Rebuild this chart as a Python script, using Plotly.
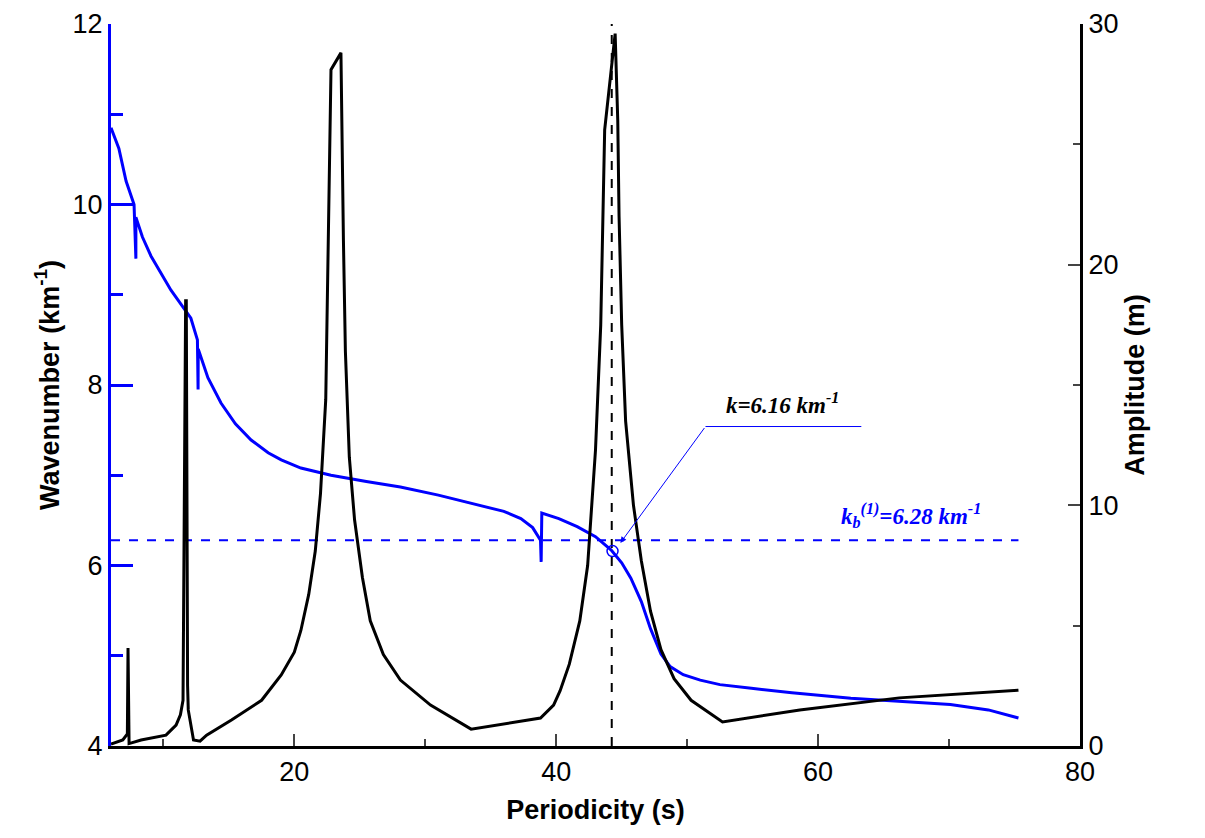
import plotly.graph_objects as go

wx = [6.0, 6.6, 7.15, 7.5, 7.76, 7.9, 7.9, 8.4, 9.05, 10.58, 12.1, 12.6, 12.65, 12.66, 13.4, 14.4, 15.5, 16.7, 18.0, 19.0, 20.5, 22.8, 25.5, 28.1, 31.0, 34.2, 36.0, 37.3, 38.2, 38.8, 38.85, 38.9, 40.2, 41.6, 43.0, 44.2, 45.0, 45.7, 46.5, 47.2, 48.0, 48.7, 49.7, 51.0, 52.5, 54.9, 58.0, 62.5, 66.0, 70.1, 73.0, 75.3]
wy = [10.85, 10.62, 10.26, 10.12, 10.0, 9.4, 9.86, 9.64, 9.43, 9.05, 8.74, 8.5, 7.95, 8.4, 8.08, 7.8, 7.57, 7.39, 7.25, 7.17, 7.08, 7.0, 6.93, 6.87, 6.78, 6.67, 6.6, 6.52, 6.42, 6.28, 6.04, 6.58, 6.52, 6.43, 6.32, 6.17, 6.03, 5.86, 5.6, 5.3, 5.02, 4.88, 4.79, 4.73, 4.68, 4.64, 4.59, 4.53, 4.5, 4.46, 4.4, 4.31]

ax_ = [6.0, 6.9, 7.25, 7.3, 7.38, 8.3, 10.2, 10.7, 10.97, 11.3, 11.5, 11.7, 11.75, 11.85, 11.9, 12.3, 12.8, 13.3, 15.2, 17.5, 19.0, 20.0, 20.5, 21.1, 21.6, 22.0, 22.4, 22.8, 23.56, 23.75, 23.9, 24.2, 24.6, 25.2, 25.8, 26.8, 28.1, 30.4, 33.5, 38.8, 39.8, 40.3, 41.0, 41.8, 42.4, 43.0, 43.4, 43.7, 44.5, 44.7, 44.8, 45.0, 45.3, 45.9, 46.5, 47.2, 48.0, 49.0, 50.3, 52.7, 58.6, 66.2, 75.3]
ay_ = [0.08, 0.25, 0.5, 4.07, 0.1, 0.25, 0.45, 0.7, 0.87, 1.3, 1.9, 18.5, 18.5, 2.5, 1.5, 0.25, 0.2, 0.45, 1.08, 1.9, 2.95, 3.9, 4.8, 6.3, 8.1, 10.5, 14.4, 28.1, 28.8, 21.0, 16.4, 12.0, 9.4, 7.0, 5.2, 3.8, 2.74, 1.7, 0.7, 1.16, 1.7, 2.3, 3.4, 5.2, 7.5, 12.3, 17.5, 25.6, 29.6, 26.0, 22.0, 17.5, 13.5, 10.0, 7.7, 5.6, 4.0, 2.8, 1.9, 1.0, 1.5, 2.0, 2.32]

kb = 6.28
kpt = [44.3, 6.16]
tf = "Liberation Serif"

fig = go.Figure()
fig.add_trace(go.Scatter(x=ax_, y=ay_, yaxis="y2", mode="lines", line=dict(color="black", width=3)))
fig.add_trace(go.Scatter(x=wx, y=wy, mode="lines", line=dict(color="blue", width=3)))
fig.add_trace(go.Scatter(x=[6, 75.3], y=[kb, kb], mode="lines", line=dict(color="blue", width=2, dash="dash")))
fig.add_trace(go.Scatter(x=[44.24, 44.24], y=[4, 12], mode="lines", line=dict(color="black", width=2, dash="dash")))
fig.add_trace(go.Scatter(x=[kpt[0]], y=[kpt[1]], mode="markers", marker=dict(symbol="circle-open", size=11, color="blue", line=dict(width=1.5))))
fig.add_trace(go.Scatter(x=[51.4, 63.3], y=[7.54, 7.54], mode="lines", line=dict(color="blue", width=1)))
fig.add_annotation(x=44.9, y=6.25, ax=51.4, ay=7.54, axref="x", ayref="y", showarrow=True,
                   arrowhead=2, arrowsize=1.2, arrowwidth=1, arrowcolor="blue", text="")
fig.add_annotation(x=57.3, y=7.8, text="<b><i>k=6.16 km<sup>-1</sup></i></b>", showarrow=False,
                   font=dict(family=tf, size=23, color="black"))
fig.add_annotation(x=67.1, y=6.55, text="<b><i>k<sub>b</sub><sup>(1)</sup>=6.28 km<sup>-1</sup></i></b>", showarrow=False,
                   font=dict(family=tf, size=23, color="blue"))

tfnt = dict(family="Liberation Sans", size=27, color="black")
tk = dict(family="Liberation Sans", size=27, color="black")
fig.update_layout(
    width=1205, height=838, showlegend=False, plot_bgcolor="white", paper_bgcolor="white",
    margin=dict(l=103, r=133, t=16, b=100),
    font=dict(family="Liberation Sans", size=27, color="black"),
    xaxis=dict(range=[6, 80], tickvals=[20, 40, 60, 80], ticks="inside", ticklen=12, tickwidth=2,
               tickfont=tk, automargin=False,
               minor=dict(tickvals=[10, 30, 50, 70], ticks="inside", ticklen=7, tickwidth=2),
               showline=True, linewidth=3, linecolor="black", showgrid=False, zeroline=False,
               title=dict(text="<b>Periodicity (s)</b>", standoff=14, font=tfnt)),
    yaxis=dict(range=[4, 12], tickvals=[4, 6, 8, 10, 12], ticks="inside", ticklen=22, tickwidth=3, tickcolor="blue",
               tickfont=tk, automargin=False,
               minor=dict(tickvals=[5, 7, 9, 11], ticks="inside", ticklen=12, tickwidth=3, tickcolor="blue"),
               showline=True, linewidth=3, linecolor="blue", showgrid=False, zeroline=False,
               title=dict(text="<b>Wavenumber (km<sup>-1</sup>)</b>", standoff=6, font=tfnt)),
    yaxis2=dict(range=[0, 30], overlaying="y", side="right", tickvals=[0, 10, 20, 30], ticks="inside",
                tickfont=tk, automargin=False,
                ticklen=12, tickwidth=2, minor=dict(tickvals=[5, 15, 25], ticks="inside", ticklen=7, tickwidth=2),
                showline=True, linewidth=3, linecolor="black", showgrid=False, zeroline=False,
                title=dict(text="<b>Amplitude (m)</b>", standoff=8, font=tfnt)),
)
fig.write_html("out.html")
